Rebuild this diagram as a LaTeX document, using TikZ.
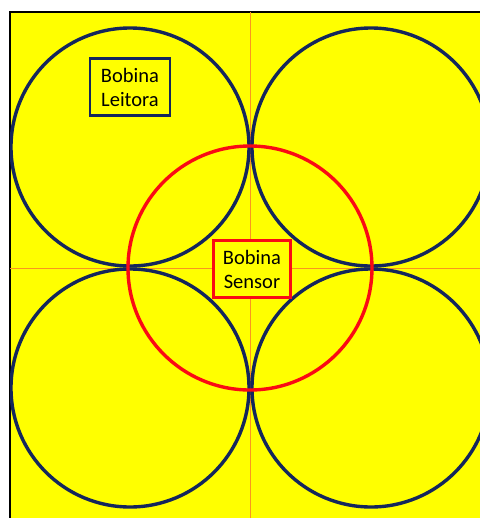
\documentclass[tikz,border=0pt]{standalone}
\usepackage{fontspec}
\setmainfont{Carlito}
\usetikzlibrary{positioning}
\definecolor{coilnavy}{RGB}{20,38,92}
\definecolor{coilred}{RGB}{250,10,20}
\definecolor{guideorange}{RGB}{250,150,30}
\definecolor{bgyellow}{RGB}{255,255,0}
\tikzset{
  readercoil/.style={draw=coilnavy,line width=2.9pt},
  sensorcoil/.style={draw=coilred,line width=2.9pt},
  labelbox/.style={draw,line width=2.4pt,fill=bgyellow,align=center,inner sep=0pt,
    font=\fontsize{17.5}{20.5}\selectfont},
}
\begin{document}
\begin{tikzpicture}[x=0.03cm,y=-0.03cm]
			\useasboundingbox (0,0) rectangle (480,518);
			% background
			\fill[bgyellow] (10,12) rectangle (480,518);
			\draw[line width=1.2pt] (10,518) -- (10,12) -- (480,12);
			% guide lines
			\draw[guideorange,line width=0.8pt] (250,12) -- (250,518);
			\draw[guideorange,line width=0.8pt] (10,268) -- (480,268);
			% reader coils
			\begin{scope}
				\clip (10,12) rectangle (480,518);
				\draw[readercoil] (130,147) circle (119);
				\draw[readercoil] (371,147) circle (119);
				\draw[readercoil] (130,388) circle (119);
				\draw[readercoil] (371,388) circle (119);
				% sensor coil
				\draw[sensorcoil] (250,268) circle (122);
			\end{scope}
			% labels
			\node[labelbox,draw=coilnavy,minimum width=80*0.03cm,minimum height=57*0.03cm] (leitora) at (130,87) {Bobina\\Leitora};
			\node[labelbox,draw=coilred,minimum width=77*0.03cm,minimum height=57*0.03cm] (sensor) at (252,269) {Bobina\\Sensor};
		\end{tikzpicture}
\end{document}
